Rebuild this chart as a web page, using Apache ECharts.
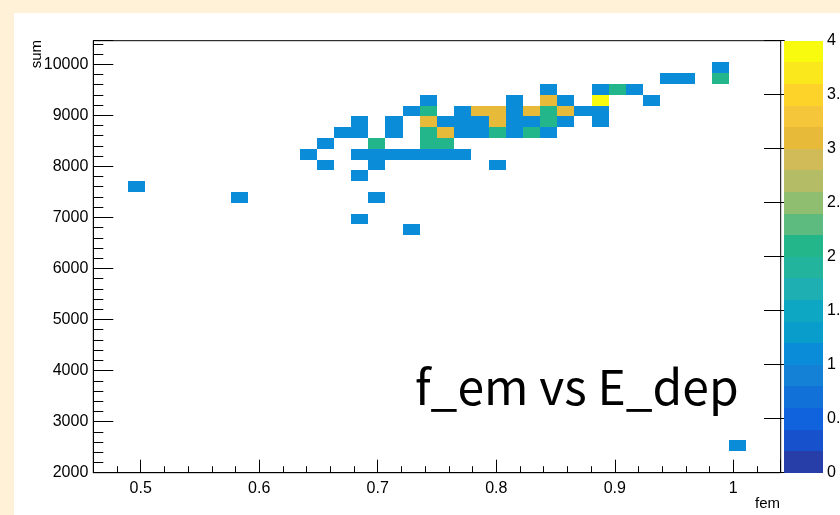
<!DOCTYPE html>
<html><head><meta charset="utf-8">
<script src="https://cdn.jsdelivr.net/npm/echarts@6/dist/echarts.min.js"></script>
<style>html,body{margin:0;padding:0;background:#fff}#c{width:840px;height:515px}</style>
</head><body><div id="c"></div>
<script>
// Bin centres (fem, sum) and bin contents
const fem = [0.49625,0.58325,0.64125,0.65575,0.65575,0.67025,0.68475,0.68475,0.68475,0.68475,
  0.68475,0.69925,0.69925,0.69925,0.69925,0.71375,0.71375,0.71375,0.72825,0.72825,
  0.72825,0.74275,0.74275,0.74275,0.74275,0.74275,0.74275,0.75725,0.75725,0.75725,
  0.75725,0.77175,0.77175,0.77175,0.77175,0.78625,0.78625,0.78625,0.80075,0.80075,
  0.80075,0.80075,0.81525,0.81525,0.81525,0.81525,0.82975,0.82975,0.82975,0.84425,
  0.84425,0.84425,0.84425,0.84425,0.85875,0.85875,0.85875,0.87325,0.88775,0.88775,
  0.88775,0.88775,0.90225,0.91675,0.93125,0.94575,0.96025,0.98925,0.98925,1.00375];
const sum = [7604.75,7393.25,8239.25,8450.75,8027.75,8662.25,8873.75,8662.25,8239.25,7816.25,
  6970.25,8450.75,8239.25,8027.75,7393.25,8873.75,8662.25,8239.25,9085.25,8239.25,
  6758.75,9296.75,9085.25,8873.75,8662.25,8450.75,8239.25,8873.75,8662.25,8450.75,
  8239.25,9085.25,8873.75,8662.25,8239.25,9085.25,8873.75,8662.25,9085.25,8873.75,
  8662.25,8027.75,9296.75,9085.25,8873.75,8662.25,9085.25,8873.75,8662.25,9508.25,
  9296.75,9085.25,8873.75,8662.25,9296.75,9085.25,8873.75,9085.25,9508.25,9296.75,
  9085.25,8873.75,9508.25,9508.25,9296.75,9719.75,9719.75,9931.25,9719.75,2528.75];
const counts = [1,1,1,1,1,1,1,1,1,1,
  1,2,1,1,1,1,1,1,1,1,
  1,1,2,3,2,2,1,1,3,2,
  1,1,1,1,1,3,1,1,3,3,
  2,1,1,1,1,1,3,1,2,1,
  3,2,2,1,1,3,1,1,1,4,
  1,1,2,1,1,1,1,1,2,1];
const binWidthX = 0.0145;
const binWidthY = 211.5;

const xTickLabels = ['0.5','0.6','0.7','0.8','0.9','1'];
const yTickLabels = ['2000','3000','4000','5000','6000','7000','8000','9000','10000'];
const zTickLabels = ['0','0.5','1','1.5','2','2.5','3','3.5','4'];

// palette bands (20 contour levels)
const bandEdges = [0,0.2,0.4,0.6,0.8,1.0,1.2,1.4,1.6,1.8,2.0,2.2,2.4,2.6,2.8,3.0,3.2,3.4,3.6,3.8,4.0];
const bandColors = ['#273DA8','#1751CB','#1063DC','#1271D9','#1480D6','#0A8CD8','#099DCC','#0DA7C3','#1EAFB3','#22B49C',
  '#22B68A','#5EBB80','#8FBE71','#B4BD65','#D1BB59','#E8BA3A','#F5C63A','#FDD32A','#FBE81C','#F9FB0E'];

const FONT = 'Liberation Sans, Arial, Helvetica, sans-serif';
function fmt(labels){ return function(v){ const s = String(+(+v).toFixed(6)); return labels.indexOf(s) >= 0 ? s : ''; }; }
function colorFor(c){
  let k = -1;
  for (let i = 0; i < bandColors.length; i++) { if (c >= bandEdges[i] - 1e-9) k = i; }
  return bandColors[Math.max(0, Math.min(bandColors.length - 1, k))];
}

const cellData = fem.map((x, i) => [x, sum[i], counts[i]]);
const bandData = bandColors.map((c, i) => [bandEdges[i], bandEdges[i + 1], i]);

const chart = echarts.init(document.getElementById('c'), null, {renderer: 'canvas'});
chart.setOption({
  backgroundColor: '#FEF1D7',
  animation: false,
  textStyle: {fontFamily: FONT},
  grid: [
    {left: 93.3, top: 40.7, width: 687.4, height: 432, show: true, backgroundColor: '#ffffff', borderColor: '#000', borderWidth: 1, containLabel: false, outerBoundsMode: 'none'},
    {left: 784, top: 40.7, width: 39, height: 432, show: false, containLabel: false, outerBoundsMode: 'none'}
  ],
  xAxis: [
    {type: 'value', gridIndex: 0, min: 0.46, max: 1.04, minInterval: 0.1, maxInterval: 0.1,
     axisLine: {show: true, onZero: false, lineStyle: {color: '#000', width: 1}},
     axisTick: {show: true, inside: true, length: 13, lineStyle: {color: '#000'}},
     minorTick: {show: true, splitNumber: 5, length: 6.5, lineStyle: {color: '#000'}},
     axisLabel: {show: true, margin: 8, fontSize: 16, color: '#000', fontFamily: FONT, formatter: fmt(xTickLabels)},
     splitLine: {show: false}},
    {type: 'value', gridIndex: 1, min: 0, max: 1, show: false}
  ],
  yAxis: [
    {type: 'value', gridIndex: 0, min: 2000, max: 10460, minInterval: 1000, maxInterval: 1000,
     axisLine: {show: true, onZero: false, lineStyle: {color: '#000', width: 1}},
     axisTick: {show: true, inside: true, length: 20, lineStyle: {color: '#000'}},
     minorTick: {show: true, splitNumber: 5, length: 10, lineStyle: {color: '#000'}},
     axisLabel: {show: true, margin: 5, fontSize: 16, color: '#000', fontFamily: FONT, formatter: fmt(yTickLabels)},
     splitLine: {show: false}},
    {type: 'value', gridIndex: 1, position: 'right', min: 0, max: 4, interval: 0.5,
     axisLine: {show: true, lineStyle: {color: '#000', width: 1}},
     axisTick: {show: true, inside: true, length: 20, lineStyle: {color: '#000'}},
     axisLabel: {show: true, margin: 4, fontSize: 16, color: '#000', fontFamily: FONT, formatter: fmt(zTickLabels)},
     splitLine: {show: false}}
  ],
  series: [
    {type: 'custom', xAxisIndex: 0, yAxisIndex: 0, data: cellData, clip: true,
     renderItem: function(params, api){
       const x = api.value(0), y = api.value(1), c = api.value(2);
       const p1 = api.coord([x - binWidthX / 2, y + binWidthY / 2]);
       const p2 = api.coord([x + binWidthX / 2, y - binWidthY / 2]);
       const x0 = Math.round(p1[0]), y0 = Math.round(p1[1]);
       const x1 = Math.round(p2[0]), y1 = Math.round(p2[1]);
       return {type: 'rect', shape: {x: x0, y: y0, width: x1 - x0, height: y1 - y0}, style: {fill: colorFor(c)}};
     }},
    {type: 'custom', xAxisIndex: 1, yAxisIndex: 1, data: bandData, z: 1,
     renderItem: function(params, api){
       const lo = api.value(0), hi = api.value(1), k = api.value(2);
       const p1 = api.coord([0, hi]);
       const p2 = api.coord([1, lo]);
       const x0 = Math.round(p1[0]), y0 = Math.round(p1[1]);
       const x1 = Math.round(p2[0]), y1 = Math.round(p2[1]);
       return {type: 'rect', shape: {x: x0, y: y0, width: x1 - x0, height: y1 - y0}, style: {fill: bandColors[k]}};
     }}
  ],
  graphic: [
    {type: 'rect', left: 14, top: 13, z: -100, shape: {width: 826, height: 502}, style: {fill: '#ffffff'}, silent: true},
    {type: 'text', x: 37, y: 40, rotation: Math.PI / 2, z: 100,
     style: {text: 'sum', font: '15px ' + FONT, fill: '#000', textAlign: 'right', textVerticalAlign: 'middle'}},
    {type: 'text', x: 780, y: 504, z: 100,
     style: {text: 'fem', font: '15px ' + FONT, fill: '#000', textAlign: 'right', textVerticalAlign: 'middle'}},
    {type: 'text', x: 415, y: 387, z: 100,
     style: {text: 'f_em vs E_dep', font: '48px "Noto Sans CJK SC", "Noto Sans", sans-serif', fill: '#000', textAlign: 'left', textVerticalAlign: 'middle'}}
  ]
});
</script>
</body></html>
